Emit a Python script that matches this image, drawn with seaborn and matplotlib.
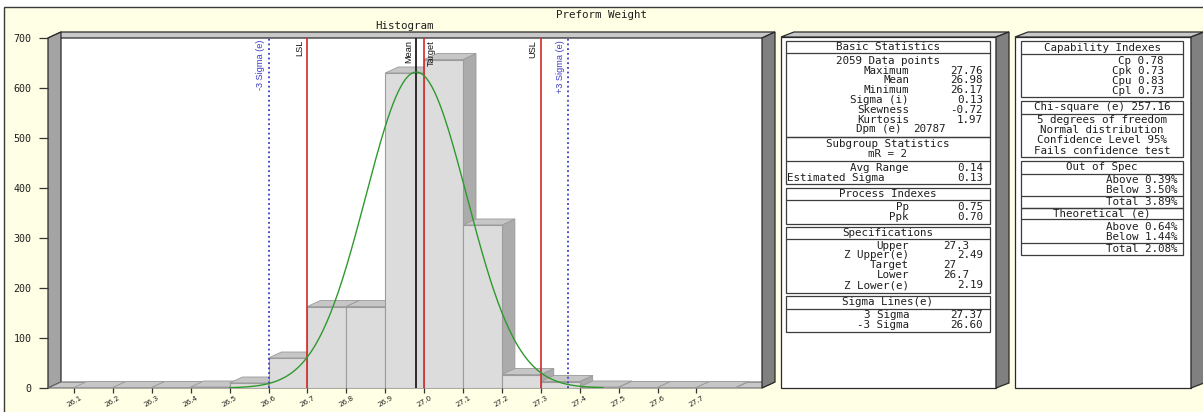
import numpy as np
import matplotlib
matplotlib.use("Agg")
import matplotlib.pyplot as plt
import seaborn as sns
from matplotlib.patches import Polygon, Rectangle
from matplotlib.transforms import IdentityTransform

# ---------------- data ----------------
bin_starts = [26.1, 26.2, 26.3, 26.4, 26.5, 26.6, 26.7, 26.8, 26.9,
              27.0, 27.1, 27.2, 27.3, 27.4, 27.5, 27.6, 27.7]
bin_width = 0.1
counts = [1, 1, 1, 2, 10, 60, 163, 163, 630, 657, 326, 27, 13, 2, 1, 1, 1]
tick_labels = ["26.1", "26.2", "26.3", "26.4", "26.5", "26.6", "26.7", "26.8",
               "26.9", "27.0", "27.1", "27.2", "27.3", "27.4", "27.5", "27.6", "27.7"]
y_ticks = [0, 100, 200, 300, 400, 500, 600, 700]

n_points = 2059
mean_val = 26.98
sigma_val = 0.13

marker_values = [26.60, 26.7, 26.98, 27.0, 27.3, 27.37]
marker_labels = ["-3 Sigma (e)", "LSL", "Mean", "Target", "USL", "+3 Sigma (e)"]
marker_kinds = ["sigma", "spec", "mean", "spec", "spec", "sigma"]

title = "Preform Weight"
subtitle = "Histogram"

basic_header = "Basic Statistics"
basic_count = "2059 Data points"
basic_labels = ["Maximum", "Mean", "Minimum", "Sigma (i)", "Skewness", "Kurtosis"]
basic_values = ["27.76", "26.98", "26.17", "0.13", "-0.72", "1.97"]
dpm_label, dpm_value = "Dpm (e)", "20787"
subgroup_header = ["Subgroup Statistics", "mR = 2"]
subgroup_labels = ["Avg Range", "Estimated Sigma"]
subgroup_values = ["0.14", "0.13"]
process_header = "Process Indexes"
process_labels = ["Pp", "Ppk"]
process_values = ["0.75", "0.70"]
spec_header = "Specifications"
spec_labels = ["Upper", "Z Upper(e)", "Target", "Lower", "Z Lower(e)"]
spec_values = ["27.3", "2.49", "27", "26.7", "2.19"]
spec_value_left = [True, False, True, True, False]
sigma_header = "Sigma Lines(e)"
sigma_labels = ["3 Sigma", "-3 Sigma"]
sigma_values = ["27.37", "26.60"]

cap_header = "Capability Indexes"
cap_rows = ["Cp 0.78", "Cpk 0.73", "Cpu 0.83", "Cpl 0.73"]
chi_header = "Chi-square (e) 257.16"
chi_rows = ["5 degrees of freedom", "Normal distribution",
            "Confidence Level 95%", "Fails confidence test"]
oos_header = "Out of Spec"
oos_rows = ["Above 0.39%", "Below 3.50%"]
oos_total = "Total 3.89%"
theo_header = "Theoretical (e)"
theo_rows = ["Above 0.64%", "Below 1.44%"]
theo_total = "Total 2.08%"

# ---------------- style ----------------
W, H = 1203, 412
CREAM = "#FFFFE6"
EDGE = "#2A2A2A"
MONO = "DejaVu Sans Mono"
FS = 7.8
TXT = "#1E1E1E"
DX, DY = 13, 6  # 3-D depth in pixels

sns.set_theme(style="white")
plt.rcParams["font.family"] = ["DejaVu Sans"]

fig = plt.figure(figsize=(W / 100, H / 100), dpi=100, facecolor="white")

# background / decoration layer in image pixel coordinates
bg = fig.add_axes([0, 0, 1, 1])
bg.set_xlim(0, W)
bg.set_ylim(H, 0)
bg.axis("off")
bg.set_zorder(0)

bg.add_patch(Rectangle((4, 7), W, H, fc=CREAM, ec="#3A3A3A", lw=1.0))

# plot box (front plane 48..762 x 38..388)
px0, px1, py0, py1 = 48, 762, 38, 388
bg.add_patch(Rectangle((px0, py0), px1 - px0, py1 - py0, fc="white", ec="none"))
bg.add_patch(Polygon([(px0, py0), (px0 + DX, py0 - DY), (px1 + DX, py0 - DY), (px1, py0)],
                     closed=True, fc="#C8C8C8", ec=EDGE, lw=0.9))
bg.add_patch(Polygon([(px0, py0), (px0 + DX, py0 - DY), (px0 + DX, py1 - DY), (px0, py1)],
                     closed=True, fc="#A4A4A4", ec=EDGE, lw=0.9))
bg.add_patch(Polygon([(px0, py1), (px0 + DX, py1 - DY), (px1 + DX, py1 - DY), (px1, py1)],
                     closed=True, fc="#C8C8C8", ec="#6A6A6A", lw=0.8))
bg.add_patch(Polygon([(px1, py0), (px1 + DX, py0 - DY), (px1 + DX, py1 - DY), (px1, py1)],
                     closed=True, fc="#808080", ec=EDGE, lw=0.9))

bg.text(W / 2, 14.5, title, ha="center", va="center", fontsize=FS, family=MONO, color=TXT)
bg.text((px0 + px1) / 2, 25.5, subtitle, ha="center", va="center", fontsize=FS, family=MONO, color=TXT)


def box3d(x0, x1, y0, y1):
    bg.add_patch(Rectangle((x0, y0), x1 - x0, y1 - y0, fc="white", ec=EDGE, lw=0.9))
    bg.add_patch(Polygon([(x0, y0), (x0 + DX, y0 - 5), (x1 + DX, y0 - 5), (x1, y0)],
                         closed=True, fc="#C8C8C8", ec=EDGE, lw=0.9))
    bg.add_patch(Polygon([(x1, y0), (x1 + DX, y0 - 5), (x1 + DX, y1 - 5), (x1, y1)],
                         closed=True, fc="#808080", ec=EDGE, lw=0.9))


def frame(x0, x1, top, bottom, seps):
    bg.add_patch(Rectangle((x0, top), x1 - x0, bottom - top, fc="none", ec="#3C3C3C", lw=0.9))
    for s in seps:
        bg.plot([x0, x1], [s, s], color="#3C3C3C", lw=0.9)


def put(x, y, s, ha):
    bg.text(x, y, s, ha=ha, va="center", fontsize=FS, family=MONO, color=TXT)


# ---- panel A ----
box3d(781, 996, 37, 388)
ax0, ax1 = 786, 990
xc, xl, xv = 888, 909, 983
frame(ax0, ax1, 41, 137, [52.5])
put(xc, 47, basic_header, "center")
put(xc, 60.7, basic_count, "center")
for k, (lab, val) in enumerate(zip(basic_labels, basic_values)):
    y = 70.5 + 9.8 * k
    put(xl, y, lab, "right")
    put(xv, y, val, "right")
put(901, 129.3, dpm_label, "right")
put(913, 129.3, dpm_value, "left")

frame(ax0, ax1, 137, 184, [160.5])
put(xc, 144, subgroup_header[0], "center")
put(xc, 154, subgroup_header[1], "center")
put(xl, 168, subgroup_labels[0], "right")
put(xv, 168, subgroup_values[0], "right")
put(ax0 + 1, 178, subgroup_labels[1], "left")
put(xv, 178, subgroup_values[1], "right")

frame(ax0, ax1, 188, 224, [200])
put(xc, 194, process_header, "center")
for k, (lab, val) in enumerate(zip(process_labels, process_values)):
    y = 207 + 10 * k
    put(xl, y, lab, "right")
    put(xv, y, val, "right")

frame(ax0, ax1, 226.5, 292.5, [239])
put(xc, 233, spec_header, "center")
for k, (lab, val, left) in enumerate(zip(spec_labels, spec_values, spec_value_left)):
    y = 245.5 + 10 * k
    put(xl, y, lab, "right")
    if left:
        put(943, y, val, "left")
    else:
        put(xv, y, val, "right")

frame(ax0, ax1, 296, 332, [308.5])
put(xc, 302, sigma_header, "center")
for k, (lab, val) in enumerate(zip(sigma_labels, sigma_values)):
    y = 315 + 10 * k
    put(xl, y, lab, "right")
    put(xv, y, val, "right")

# ---- panel B ----
box3d(1015, 1191, 37, 388)
bx0, bx1, bxc = 1021, 1183, 1102
frame(bx0, bx1, 41, 97, [53.5])
put(bxc, 47.5, cap_header, "center")
for k, s in enumerate(cap_rows):
    put(1164, 60.5 + 10 * k, s, "right")

frame(bx0, bx1, 100.5, 157, [113.5])
put(bxc, 107.3, chi_header, "center")
for k, s in enumerate(chi_rows):
    put(bxc, 120 + 10.2 * k, s, "center")

frame(bx0, bx1, 161, 207.5, [173.5, 196])
put(bxc, 167.3, oos_header, "center")
for k, s in enumerate(oos_rows):
    put(1177, 180 + 10.2 * k, s, "right")
put(1177, 202.3, oos_total, "right")

frame(bx0, bx1, 207.5, 255, [219.3, 242.5])
put(bxc, 213.3, theo_header, "center")
for k, s in enumerate(theo_rows):
    put(1177, 226.7 + 10 * k, s, "right")
put(1177, 249, theo_total, "right")

# ---------------- histogram axes ----------------
ax = fig.add_axes([px0 / W, (H - py1) / H, (px1 - px0) / W, (py1 - py0) / H])
ax.set_zorder(1)
ax.set_facecolor("none")
for sp in ax.spines.values():
    sp.set_visible(False)

edges = bin_starts + [bin_starts[-1] + bin_width]
centers = [b + bin_width / 2 for b in bin_starts]
sns.histplot(x=centers, weights=counts, bins=edges, ax=ax, color="#DCDCDC",
             edgecolor="#9C9C9C", linewidth=0.8, alpha=1.0)
for p in ax.patches:
    p.set_zorder(3)

xlo = bin_starts[0] - 26 / 389
xhi = bin_starts[0] + 688 / 389
ax.set_xlim(xlo, xhi)
ax.set_ylim(0, 700)

# 3-D top and side faces of each bar, from the bar geometry
for p in list(ax.patches):
    x0, w, h = p.get_x(), p.get_width(), p.get_height()
    X0, Y0 = ax.transData.transform((x0, 0))
    X1, YH = ax.transData.transform((x0 + w, h))
    side = Polygon([(X1, Y0), (X1, YH), (X1 + DX, YH + DY), (X1 + DX, Y0 + DY)],
                   closed=True, fc="#ABABAB", ec="#9A9A9A", lw=0.6,
                   transform=IdentityTransform(), zorder=2)
    top = Polygon([(X0, YH), (X1, YH), (X1 + DX, YH + DY), (X0 + DX, YH + DY)],
                  closed=True, fc="#C6C6C6", ec="#9A9A9A", lw=0.6,
                  transform=IdentityTransform(), zorder=2)
    ax.add_patch(side)
    ax.add_patch(top)

# fitted normal curve
xs = np.linspace(26.5, 27.46, 300)
ys = n_points * bin_width / (sigma_val * np.sqrt(2 * np.pi)) * np.exp(-0.5 * ((xs - mean_val) / sigma_val) ** 2)
sns.lineplot(x=xs, y=ys, ax=ax, color="#2E9A2E", lw=1.0, zorder=6)

# marker lines with labels
styles = {"sigma": dict(color="#3B3BC4", lw=1.3, ls=(0, (1, 1.6))),
          "spec": dict(color="#D42A2A", lw=1.2, ls="-"),
          "mean": dict(color="#1E1E1E", lw=1.3, ls="-")}
for v, lab, kind in zip(marker_values, marker_labels, marker_kinds):
    ax.axvline(v, ymin=0, ymax=1, zorder=5, **styles[kind])
    right = lab == "Target"
    ax.annotate(lab, xy=(v, 700), xytext=(2 if right else -2.5, -1.5), textcoords="offset points",
                rotation=90, ha="left" if right else "right", va="top", fontsize=6.6,
                family=["Liberation Sans", "DejaVu Sans"],
                color="#3B3BC4" if kind == "sigma" else "#111111", annotation_clip=False, zorder=7)

ax.set_xticks(bin_starts)
ax.set_xticklabels(tick_labels, rotation=30, ha="center", fontsize=5.2, color=TXT)
ax.set_yticks(y_ticks)
ax.set_yticklabels([str(t) for t in y_ticks], fontsize=7.2, family=MONO, color=TXT)
ax.tick_params(axis="x", direction="out", length=3.6, width=0.9, color="#333333", pad=1.0, bottom=True)
ax.tick_params(axis="y", direction="out", length=6.5, width=0.9, color="#333333", pad=5.5, left=True)
ax.set_xlabel("")
ax.set_ylabel("")
ax.grid(False)

fig.savefig("out.png", dpi=100, facecolor="white")
